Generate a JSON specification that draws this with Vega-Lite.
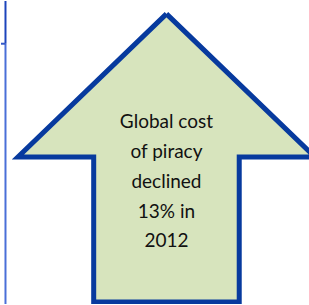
{
  "$schema": "https://vega.github.io/schema/vega-lite/v6.json",
  "width": 309,
  "height": 305,
  "autosize": {"type": "fit", "contains": "padding"},
  "padding": 0,
  "background": "white",
  "config": {"view": {"stroke": null}},
  "datasets": {
    "arrow": [
      {"i": 0, "x": 166, "y": 13},
      {"i": 1, "x": 315, "y": 157},
      {"i": 2, "x": 239, "y": 157},
      {"i": 3, "x": 239, "y": 303},
      {"i": 4, "x": 93, "y": 303},
      {"i": 5, "x": 93, "y": 157},
      {"i": 6, "x": 17, "y": 157},
      {"i": 7, "x": 166, "y": 13}
    ],
    "label": [
      {"line": "Global cost", "x": 166, "y": 122},
      {"line": "of piracy", "x": 166, "y": 152},
      {"line": "declined", "x": 166, "y": 182},
      {"line": "13% in", "x": 166, "y": 212},
      {"line": "2012", "x": 166, "y": 242}
    ],
    "vline": [
      {"x": 4.5, "y": 0, "y2": 43, "seg": "top"},
      {"x": 4.5, "y": 43, "y2": 305, "seg": "bottom"}
    ],
    "hline": [{"x": 0, "x2": 4.5, "y": 43}]
  },
  "layer": [
    {
      "data": {"name": "vline"},
      "mark": {"type": "rule", "strokeWidth": 2},
      "encoding": {
        "x": {"field": "x", "type": "quantitative", "scale": {"domain": [0, 309], "nice": false, "zero": false}, "axis": null},
        "y": {"field": "y", "type": "quantitative", "scale": {"domain": [0, 305], "reverse": true, "nice": false, "zero": false}, "axis": null},
        "y2": {"field": "y2"},
        "color": {"field": "seg", "type": "nominal", "scale": {"domain": ["top", "bottom"], "range": ["#1c44bc", "#4a6fd8"]}, "legend": null}
      }
    },
    {
      "data": {"name": "hline"},
      "mark": {"type": "rule", "color": "#3358c8", "strokeWidth": 2},
      "encoding": {
        "x": {"field": "x", "type": "quantitative"},
        "x2": {"field": "x2"},
        "y": {"field": "y", "type": "quantitative"}
      }
    },
    {
      "data": {"name": "arrow"},
      "mark": {"type": "line", "fill": "#d7e4bd", "stroke": "#073a9e", "strokeWidth": 5, "strokeJoin": "miter", "strokeMiterLimit": 10, "clip": true},
      "encoding": {
        "x": {"field": "x", "type": "quantitative"},
        "y": {"field": "y", "type": "quantitative"},
        "order": {"field": "i", "type": "quantitative"}
      }
    },
    {
      "data": {"name": "label"},
      "mark": {"type": "text", "font": "Lato", "fontSize": 19, "color": "#111111", "align": "center", "baseline": "middle"},
      "encoding": {
        "x": {"field": "x", "type": "quantitative"},
        "y": {"field": "y", "type": "quantitative"},
        "text": {"field": "line", "type": "nominal"}
      }
    }
  ]
}
